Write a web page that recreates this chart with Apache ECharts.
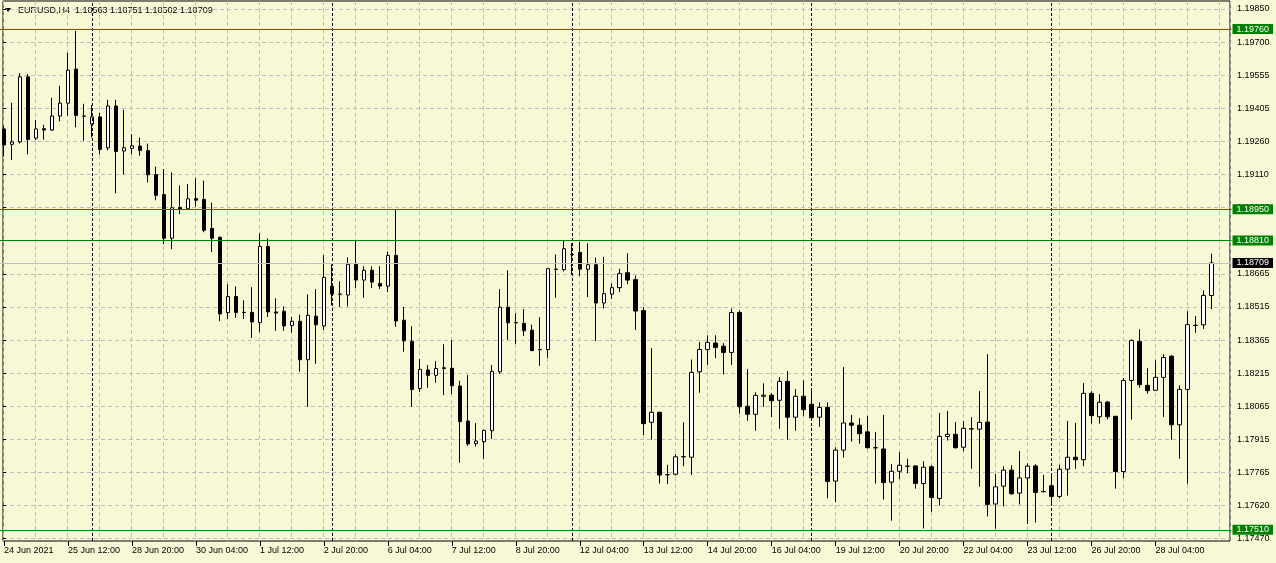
<!DOCTYPE html>
<html>
<head>
<meta charset="utf-8">
<script src="https://cdn.jsdelivr.net/npm/echarts@6/dist/echarts.min.js"></script>
<style>
html,body{margin:0;padding:0;background:#F8F8D6;}
#chart{width:1276px;height:563px;}
</style>
</head>
<body>
<div id="chart"></div>
<script>
// ---- data (EURUSD H4, from 24 Jun 2021 04:00) ----
const days = ['24 Jun','25 Jun','28 Jun','29 Jun','30 Jun','1 Jul','2 Jul','5 Jul','6 Jul','7 Jul','8 Jul','9 Jul','12 Jul','13 Jul','14 Jul','15 Jul','16 Jul','19 Jul','20 Jul','21 Jul','22 Jul','23 Jul','26 Jul','27 Jul','28 Jul','29 Jul'];
const hours = ['00:00','04:00','08:00','12:00','16:00','20:00'];
const firstBar = 1;   // first visible bar: 24 Jun 04:00
const barCount = 152; // bars with data
const slotCount = 154; // bar slots across the chart (2 empty future slots)

const opens = [
1.19311,1.19242,1.19253,1.19545,1.19270,1.19312,1.19306,1.19369,1.19427,1.19580,
1.19369,1.19333,1.19365,1.19226,1.19414,1.19212,1.19224,1.19234,1.19214,1.19106,
1.19016,1.18820,1.18958,1.18952,1.18998,1.18994,1.18864,1.18824,1.18486,1.18558,
1.18487,1.18487,1.18441,1.18783,1.18489,1.18492,1.18428,1.18447,1.18274,1.18470,
1.18426,1.18604,1.18569,1.18565,1.18703,1.18632,1.18676,1.18617,1.18605,1.18743,
1.18452,1.18357,1.18145,1.18228,1.18204,1.18238,1.18236,1.18156,1.17999,1.17897,
1.17906,1.17955,1.18220,1.18510,1.18441,1.18437,1.18407,1.18320,1.18320,1.18681,
1.18679,1.18747,1.18756,1.18681,1.18701,1.18529,1.18569,1.18598,1.18665,1.18634,
1.18495,1.17993,1.18038,1.17758,1.17760,1.17838,1.17836,1.18220,1.18320,1.18349,
1.18335,1.18307,1.18486,1.18065,1.18029,1.18110,1.18115,1.18092,1.18177,1.18016,
1.18110,1.18074,1.18016,1.18060,1.17729,1.17868,1.17990,1.17980,1.17950,1.17879,
1.17873,1.17724,1.17773,1.17796,1.17797,1.17718,1.17793,1.17651,1.17929,1.17939,
1.17881,1.17964,1.17962,1.17994,1.17626,1.17706,1.17778,1.17675,1.17743,1.17797,
1.17682,1.17708,1.17660,1.17782,1.17836,1.17825,1.18123,1.18018,1.18084,1.18020,
1.17772,1.18181,1.18356,1.18159,1.18137,1.18195,1.18290,1.17982,1.18141,1.18429,
1.18431,1.18563];
const highs = [
1.19326,1.19429,1.19562,1.19557,1.19352,1.19330,1.19451,1.19505,1.19653,1.19751,
1.19424,1.19418,1.19384,1.19442,1.19442,1.19397,1.19288,1.19272,1.19245,1.19142,
1.19131,1.19116,1.19057,1.19064,1.19089,1.19079,1.18980,1.18828,1.18613,1.18604,
1.18541,1.18600,1.18842,1.18819,1.18550,1.18514,1.18466,1.18477,1.18568,1.18591,
1.18744,1.18703,1.18626,1.18734,1.18809,1.18694,1.18694,1.18694,1.18761,1.18948,
1.18511,1.18425,1.18277,1.18250,1.18268,1.18344,1.18362,1.18180,1.18205,1.17989,
1.17959,1.18250,1.18591,1.18676,1.18483,1.18501,1.18432,1.18465,1.18685,1.18747,
1.18810,1.18797,1.18803,1.18797,1.18733,1.18737,1.18617,1.18683,1.18752,1.18652,
1.18510,1.18326,1.18040,1.17802,1.17851,1.17993,1.18275,1.18353,1.18384,1.18384,
1.18349,1.18504,1.18496,1.18232,1.18128,1.18168,1.18124,1.18196,1.18223,1.18142,
1.18181,1.18136,1.18083,1.18083,1.17881,1.18241,1.18026,1.18011,1.18021,1.17950,
1.18026,1.17806,1.17859,1.17829,1.17800,1.17818,1.17800,1.18035,1.18044,1.17994,
1.17999,1.18016,1.18133,1.18299,1.17760,1.17796,1.17800,1.17864,1.17809,1.17805,
1.17757,1.17752,1.17802,1.17999,1.17990,1.18169,1.18133,1.18119,1.18089,1.18021,
1.18192,1.18365,1.18411,1.18236,1.18272,1.18299,1.18295,1.18159,1.18492,1.18471,
1.18586,1.18751];
const lows = [
1.19188,1.19172,1.19246,1.19197,1.19261,1.19263,1.19303,1.19345,1.19370,1.19318,
1.19258,1.19273,1.19197,1.19215,1.19022,1.19107,1.19197,1.19191,1.19071,1.18991,
1.18794,1.18771,1.18928,1.18946,1.18963,1.18847,1.18758,1.18448,1.18457,1.18462,
1.18457,1.18372,1.18398,1.18466,1.18404,1.18404,1.18396,1.18220,1.18063,1.18256,
1.18408,1.18519,1.18511,1.18514,1.18596,1.18552,1.18596,1.18592,1.18578,1.18422,
1.18310,1.18063,1.18130,1.18148,1.18171,1.18115,1.18119,1.17812,1.17887,1.17884,
1.17829,1.17918,1.18211,1.18363,1.18345,1.18381,1.18313,1.18247,1.18283,1.18552,
1.18671,1.18656,1.18650,1.18556,1.18359,1.18504,1.18547,1.18578,1.18614,1.18408,
1.17936,1.17915,1.17718,1.17715,1.17754,1.17796,1.17756,1.18126,1.18251,1.18281,
1.18208,1.18251,1.18032,1.18000,1.17955,1.18063,1.18017,1.17964,1.17915,1.17955,
1.18023,1.18012,1.17973,1.17652,1.17634,1.17834,1.17906,1.17897,1.17875,1.17718,
1.17646,1.17551,1.17738,1.17764,1.17695,1.17516,1.17591,1.17619,1.17911,1.17875,
1.17863,1.17785,1.17704,1.17570,1.17515,1.17615,1.17667,1.17624,1.17536,1.17543,
1.17678,1.17630,1.17652,1.17664,1.17784,1.17796,1.17987,1.17987,1.18006,1.17695,
1.17742,1.18005,1.18148,1.18121,1.18135,1.18017,1.17915,1.17830,1.17717,1.18395,
1.18413,1.18502];
const closes = [
1.19239,1.19253,1.19545,1.19264,1.19311,1.19306,1.19369,1.19427,1.19575,1.19372,
1.19368,1.19365,1.19219,1.19414,1.19210,1.19226,1.19235,1.19214,1.19105,1.19013,
1.18820,1.18957,1.18950,1.18997,1.18991,1.18856,1.18820,1.18480,1.18558,1.18486,
1.18486,1.18444,1.18783,1.18489,1.18484,1.18426,1.18447,1.18274,1.18474,1.18431,
1.18644,1.18569,1.18568,1.18703,1.18632,1.18676,1.18623,1.18605,1.18743,1.18448,
1.18359,1.18140,1.18231,1.18204,1.18235,1.18235,1.18157,1.17996,1.17896,1.17909,
1.17957,1.18222,1.18510,1.18440,1.18440,1.18404,1.18315,1.18319,1.18683,1.18680,
1.18773,1.18746,1.18681,1.18701,1.18529,1.18571,1.18598,1.18661,1.18632,1.18493,
1.17987,1.18038,1.17756,1.17757,1.17838,1.17839,1.18217,1.18320,1.18352,1.18329,
1.18307,1.18486,1.18063,1.18029,1.18114,1.18115,1.18090,1.18177,1.18016,1.18110,
1.18050,1.18014,1.18060,1.17727,1.17868,1.17990,1.17980,1.17942,1.17879,1.17878,
1.17722,1.17773,1.17800,1.17795,1.17718,1.17791,1.17655,1.17930,1.17939,1.17879,
1.17966,1.17963,1.17993,1.17624,1.17703,1.17778,1.17672,1.17743,1.17796,1.17678,
1.17681,1.17660,1.17782,1.17836,1.17825,1.18123,1.18023,1.18083,1.18018,1.17772,
1.18181,1.18361,1.18162,1.18135,1.18195,1.18284,1.17982,1.18141,1.18432,1.18428,
1.18563,1.18709];

const priceTickLabels = ['1.17470','1.17620','1.17765','1.17915','1.18065','1.18215','1.18365','1.18515','1.18665','1.18815','1.18960','1.19110','1.19260','1.19405','1.19555','1.19700','1.19850'];
const levelLines = [1.19760, 1.18950, 1.18810, 1.17510];
const weekSeparators = ['28 Jun 00:00','5 Jul 00:00','12 Jul 00:00','19 Jul 00:00','26 Jul 00:00'];
const symbolName = 'EURUSD,H4';

// ---- build ----
const allTimes = [];
days.forEach(d => hours.forEach(h => allTimes.push(d + ' ' + h)));
while (allTimes.length < firstBar + slotCount) allTimes.push('');
const categories = allTimes.slice(firstBar, firstBar + slotCount);
const candles = opens.map((o, k) => [o, closes[k], lows[k], highs[k]]);
const last = opens.length - 1;
const fmt = v => v.toFixed(5);
const header = symbolName + '  ' + [opens[last], highs[last], lows[last], closes[last]].map(fmt).join(' ');

const PMIN = 1.174597, PMAX = 1.198859;
const FONT = 'Liberation Sans';
const gridDash = { color: '#BDBDBD', type: [4, 3], width: 1 };
const labelEvery = (idx) => idx % 8 === 0 && idx < barCount;

const priceLabel = (v, bg) => ({ show: true, position: 'end', distance: 1, formatter: () => fmt(v),
  color: '#fff', backgroundColor: bg, padding: [1, 4, 0, 4], fontSize: 9, fontFamily: FONT, lineHeight: 9 });

const chart = echarts.init(document.getElementById('chart'), null, { renderer: 'canvas' });
const option = {
  backgroundColor: '#F8F8D6',
  animation: false,
  grid: [
    { left: 3, right: 46, top: 1, bottom: 22, show: true, borderColor: '#000', borderWidth: 1, backgroundColor: 'transparent' },
    { left: -0.5, width: slotCount * 8, top: 1, bottom: 22 },
    { left: 3, right: 46, top: 9, bottom: 24.3 }
  ],
  xAxis: [
    { gridIndex: 0, type: 'value', min: 0, max: 153.375, interval: 4,
      axisLine: { show: false }, axisTick: { show: false }, axisLabel: { show: false },
      splitLine: { show: true, lineStyle: gridDash } },
    { gridIndex: 1, type: 'category', data: categories, boundaryGap: true,
      axisLine: { show: false },
      axisTick: { show: true, alignWithLabel: true, interval: labelEvery, length: 5, lineStyle: { color: '#000' } },
      axisLabel: { interval: labelEvery, align: 'left', margin: 5, color: '#000', fontSize: 9, fontFamily: FONT,
        formatter: (v, idx) => idx === 0 ? v.split(' ').slice(0, 2).join(' ') + ' 2021' : v },
      splitLine: { show: false } },
    { gridIndex: 2, type: 'value', min: 0, max: 1, show: false }
  ],
  yAxis: [
    { gridIndex: 0, type: 'value', min: PMIN, max: PMAX, show: false },
    { gridIndex: 1, type: 'value', min: PMIN, max: PMAX, show: false },
    { gridIndex: 2, type: 'value', min: 0, max: priceTickLabels.length - 1, interval: 1, position: 'right',
      axisLine: { show: false },
      axisTick: { show: true, length: 3, lineStyle: { color: '#000' } },
      axisLabel: { margin: 7, color: '#000', fontSize: 9, fontFamily: FONT, formatter: v => priceTickLabels[v] },
      splitLine: { show: true, lineStyle: gridDash } }
  ],
  graphic: [
    { type: 'polygon', shape: { points: [[5, 8], [11, 8], [8, 12]] }, style: { fill: '#000' } },
    { type: 'text', left: 18, top: 6, style: { text: header, fill: '#000', font: '9px "Liberation Sans"' } }
  ],
  series: [
    { type: 'candlestick', xAxisIndex: 1, yAxisIndex: 1, data: candles, barWidth: 4,
      itemStyle: { color: '#FFFFFF', color0: '#000000', borderColor: '#000000', borderColor0: '#000000', borderWidth: 1 },
      markLine: { silent: true, precision: 6, symbol: ['none', 'none'], label: { show: false },
        data: weekSeparators.map(s => ({ xAxis: categories.indexOf(s),
            lineStyle: { color: '#000', type: [3, 2], width: 1 }, label: { show: false } }))
          .concat(levelLines.map(v => ({ yAxis: v,
            lineStyle: { color: '#008000', type: 'solid', width: 1 }, label: priceLabel(v, '#008000') })))
          .concat([{ yAxis: closes[last],
            lineStyle: { color: '#C0C0C0', type: 'solid', width: 1 }, label: priceLabel(closes[last], '#000') }]) } }
  ]
};
chart.setOption(option);
</script>
</body>
</html>
